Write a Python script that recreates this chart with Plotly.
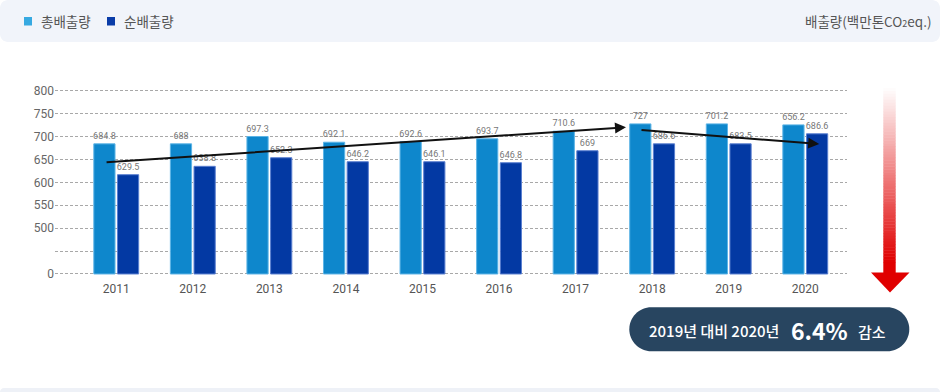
import plotly.graph_objects as go

# ---------------- data ----------------
years = ["2011", "2012", "2013", "2014", "2015", "2016", "2017", "2018", "2019", "2020"]
# bar heights as drawn (million tCO2eq.)
total_values = [684.0, 684.0, 700.0, 687.6, 689.0, 695.0, 711.6, 727.6, 727.6, 725.4]
net_values = [616.7, 635.0, 653.7, 645.0, 645.0, 642.8, 669.0, 684.0, 684.0, 705.9]
# value labels as printed on the chart
total_labels = ["684.8", "688", "697.3", "692.1", "692.6", "693.7", "710.6", "727", "701.2", "656.2"]
net_labels = ["629.5", "638.8", "652.3", "646.2", "646.1", "646.8", "669", "686.6", "683.5", "686.6"]
y_tick_values = [0, None, 500, 550, 600, 650, 700, 750, 800]
y_tick_labels = ["0", "", "500", "550", "600", "650", "700", "750", "800"]

W, H = 940, 392
FONT = "Roboto, 'Noto Sans CJK KR', sans-serif"
KFONT = "'Noto Sans CJK KR', Roboto, sans-serif"


def ypos(v):
    """Broken axis: 0..500 squeezed into 2 slots, then 50 per slot."""
    return v / 250.0 if v < 500 else 2 + (v - 500) / 50.0


def px(x):
    return x / W


def py(y):
    return 1 - y / H


def rounded_rect(x0, y0, x1, y1, r):
    k = 0.5523 * r
    pts = []
    pts.append(f"M {px(x0 + r)},{py(y0)}")
    pts.append(f"L {px(x1 - r)},{py(y0)}")
    pts.append(f"C {px(x1 - r + k)},{py(y0)} {px(x1)},{py(y0 + r - k)} {px(x1)},{py(y0 + r)}")
    pts.append(f"L {px(x1)},{py(y1 - r)}")
    pts.append(f"C {px(x1)},{py(y1 - r + k)} {px(x1 - r + k)},{py(y1)} {px(x1 - r)},{py(y1)}")
    pts.append(f"L {px(x0 + r)},{py(y1)}")
    pts.append(f"C {px(x0 + r - k)},{py(y1)} {px(x0)},{py(y1 - r + k)} {px(x0)},{py(y1 - r)}")
    pts.append(f"L {px(x0)},{py(y0 + r)}")
    pts.append(f"C {px(x0)},{py(y0 + r - k)} {px(x0 + r - k)},{py(y0)} {px(x0 + r)},{py(y0)}")
    pts.append("Z")
    return " ".join(pts)


xs = list(range(len(years)))
BW = 0.277

# y pixel geometry: 800 at y=90.7, 0 at y=274 -> 22.91 px per slot
SLOT = (274 - 90.7) / 8
PADU = 0.06  # small range padding so edge gridlines are drawn
Y_BOTTOM = 274 + PADU * SLOT
Y_TOP = 90.7 - PADU * SLOT

fig = go.Figure()
fig.add_trace(go.Bar(
    x=xs, y=[ypos(v) for v in total_values], width=BW, offset=-0.293,
    marker=dict(color="#0e87cc", line=dict(color="#5db4e6", width=1)),
    text=total_labels, textposition="outside", cliponaxis=False,
    textfont=dict(size=9, color="#777777", family=FONT), constraintext="none",
    name="총배출량", showlegend=False, hoverinfo="skip",
))
fig.add_trace(go.Bar(
    x=xs, y=[ypos(v) for v in net_values], width=BW, offset=0.016,
    marker=dict(color="#0339a3", line=dict(color="#5a7fd0", width=1)),
    text=net_labels, textposition="outside", cliponaxis=False,
    textfont=dict(size=9, color="#777777", family=FONT), constraintext="none",
    name="순배출량", showlegend=False, hoverinfo="skip",
))

shapes = []
# header band
shapes.append(dict(type="path", xref="paper", yref="paper", path=rounded_rect(0, 0, 940, 42, 8),
                   fillcolor="#f1f4fa", line=dict(width=0), layer="below"))
# bottom band
shapes.append(dict(type="path", xref="paper", yref="paper", path=rounded_rect(0, 388, 940, 400, 4),
                   fillcolor="#eef1f7", line=dict(width=0), layer="below"))
# legend squares
shapes.append(dict(type="rect", xref="paper", yref="paper", x0=px(24), x1=px(32), y0=py(17), y1=py(25.5),
                   fillcolor="#36a9e1", line=dict(width=0)))
shapes.append(dict(type="rect", xref="paper", yref="paper", x0=px(107), x1=px(115), y0=py(17), y1=py(25.5),
                   fillcolor="#0a3ca8", line=dict(width=0)))

# red gradient arrow shaft
y_top, y_red, y_bot = 88.0, 262.0, 274.0
n = 60
for i in range(n):
    a = y_top + (y_red - y_top) * i / n
    b = y_top + (y_red - y_top) * (i + 1) / n
    t = (i + 0.5) / n
    r = int(255 + (224 - 255) * t)
    g = int(255 + (0 - 255) * t)
    bl = int(255 + (0 - 255) * t)
    shapes.append(dict(type="rect", xref="paper", yref="paper", x0=px(883.3), x1=px(895.7),
                       y0=py(b + 0.4), y1=py(a), fillcolor=f"rgb({r},{g},{bl})", line=dict(width=0)))
shapes.append(dict(type="rect", xref="paper", yref="paper", x0=px(883.3), x1=px(895.7),
                   y0=py(y_bot), y1=py(y_red), fillcolor="#e00000", line=dict(width=0)))
# arrow head
shapes.append(dict(type="path", xref="paper", yref="paper",
                   path=f"M {px(871)},{py(272.5)} L {px(909.5)},{py(272.5)} L {px(890)},{py(292.5)} Z",
                   fillcolor="#e00000", line=dict(width=0)))
# summary pill
shapes.append(dict(type="path", xref="paper", yref="paper", path=rounded_rect(629.3, 307.3, 909.3, 351.3, 22),
                   fillcolor="#284560", line=dict(width=0)))

annotations = []
annotations.append(dict(xref="paper", yref="paper", x=px(39), y=py(21.5), xanchor="left", yanchor="middle",
                        text="총배출량", showarrow=False, font=dict(size=13.5, color="#555555", family=KFONT)))
annotations.append(dict(xref="paper", yref="paper", x=px(122), y=py(21.5), xanchor="left", yanchor="middle",
                        text="순배출량", showarrow=False, font=dict(size=13.5, color="#555555", family=KFONT)))
annotations.append(dict(xref="paper", yref="paper", x=px(933), y=py(21.5), xanchor="right", yanchor="middle",
                        text="배출량(백만톤CO<span style='font-size:9px'>2</span>eq.)", showarrow=False,
                        font=dict(size=13.5, color="#555555", family=KFONT)))
# pill texts
annotations.append(dict(xref="paper", yref="paper", x=px(647), y=py(330.5), xanchor="left", yanchor="middle",
                        text="2019년 대비 2020년", showarrow=False,
                        font=dict(size=15, color="#ffffff", family=KFONT, weight=500)))
annotations.append(dict(xref="paper", yref="paper", x=px(789), y=py(330), xanchor="left", yanchor="middle",
                        text="6.4%", showarrow=False,
                        font=dict(size=23, color="#ffffff", family=KFONT, weight=700)))
annotations.append(dict(xref="paper", yref="paper", x=px(856), y=py(331), xanchor="left", yanchor="middle",
                        text="감소", showarrow=False,
                        font=dict(size=15, color="#ffffff", family=KFONT, weight=500)))
# trend arrows
annotations.append(dict(xref="x", yref="y", axref="x", ayref="y",
                        x=6.658, y=6.403, ax=-0.146, ay=4.875, text="", showarrow=True,
                        arrowhead=2, arrowsize=1.1, arrowwidth=2, arrowcolor="#111111"))
annotations.append(dict(xref="x", yref="y", axref="x", ayref="y",
                        x=9.182, y=5.674, ax=6.841, ay=6.285, text="", showarrow=True,
                        arrowhead=2, arrowsize=1.1, arrowwidth=2, arrowcolor="#111111"))

fig.update_layout(
    width=W, height=H, autosize=False,
    margin=dict(l=0, r=0, t=0, b=0, pad=0, autoexpand=False),
    paper_bgcolor="#ffffff", plot_bgcolor="#ffffff",
    barmode="overlay",
    shapes=shapes, annotations=annotations,
    showlegend=False,
    font=dict(family=FONT),
    xaxis=dict(
        domain=[px(55), px(847)], range=[-0.8, 9.545],
        tickmode="array", tickvals=xs, ticktext=years,
        tickfont=dict(size=12, color="#555555", family=FONT),
        ticklabelstandoff=5,
        showgrid=False, zeroline=False, showline=False, ticks="", fixedrange=True,
        automargin=False,
    ),
    yaxis=dict(
        domain=[py(Y_BOTTOM), py(Y_TOP)], range=[-PADU, 8 + PADU],
        tickmode="array", tickvals=[ypos(v) if v is not None else 1 for v in y_tick_values],
        ticktext=y_tick_labels,
        tickfont=dict(size=12, color="#666666", family=FONT),
        showgrid=True, gridcolor="#a8a8a8", griddash="3px,2px", gridwidth=1,
        zeroline=False, showline=False, ticks="", fixedrange=True,
        automargin=False,
    ),
)

fig.write_html(
    "out.html",
    config={"displayModeBar": False},
    post_script="document.body.style.margin='0';document.body.style.overflow='hidden';",
)
